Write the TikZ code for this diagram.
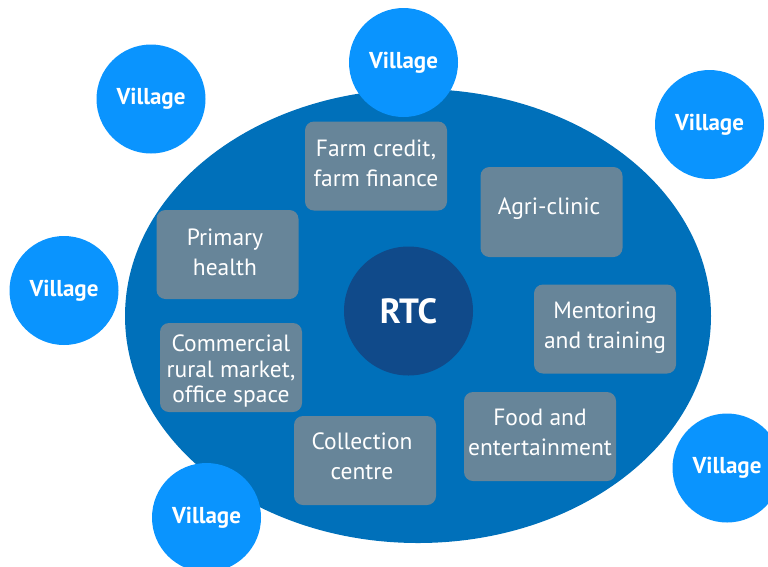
\documentclass[tikz,border=0pt]{standalone}
\usepackage{fontspec}
\setmainfont{PT Sans}
\usetikzlibrary{shapes.geometric}
\definecolor{ellipseblue}{HTML}{0070BA}
\definecolor{villageblue}{HTML}{0A94FE}
\definecolor{rtcblue}{HTML}{104A8A}
\definecolor{boxgray}{HTML}{678599}
\begin{document}
\begin{tikzpicture}[x=1pt,y=-1pt,
  village/.style={circle,fill=villageblue,minimum size=109pt,inner sep=0pt,text=white,font=\bfseries\fontsize{23}{26}\selectfont},
  servicebox/.style={rectangle,rounded corners=9pt,fill=boxgray,minimum width=142pt,minimum height=89pt,inner sep=0pt},
  boxtext/.style={text=white,align=center,inner sep=0pt,font=\fontsize{23.5}{30}\selectfont}]
\useasboundingbox (0,0) rectangle (768,566);
\clip (0,0) rectangle (768,566);
\node[ellipse,fill=ellipseblue,minimum width=586pt,minimum height=454pt,inner sep=0pt] (hub) at (418,316) {};
\node[village] (v1) at (151,99) {Village};
\node[village] (v2) at (403.5,62.5) {Village};
\node[village] (v3) at (709.5,124.5) {Village};
\node[village] (v4) at (64,290.5) {Village};
\node[village] (v5) at (727,468) {Village};
\node[village] (v6) at (206.5,517.5) {Village};
\node[circle,fill=rtcblue,minimum size=129pt,inner sep=0pt,text=white,font=\bfseries\fontsize{35}{40}\selectfont] (rtc) at (408.5,311) {RTC};
\node[servicebox] (farm) at (376,166) {};
\node[boxtext] (farmt) at (376,163) {Farm credit,\\farm finance};
\node[servicebox,minimum height=90pt] (agri) at (551.5,212) {};
\node[boxtext] (agrit) at (549,209) {Agri-clinic};
\node[servicebox] (health) at (227.5,254.5) {};
\node[boxtext] (healtht) at (225,252) {Primary\\health};
\node[servicebox] (market) at (231,367.5) {};
\node[boxtext,font=\fontsize{23.5}{25.5}\selectfont] (markett) at (231,371) {Commercial\\rural market,\\office space};
\node[servicebox] (collect) at (365,460.5) {};
\node[boxtext] (collectt) at (362,456) {Collection\\centre};
\node[servicebox,minimum width=152pt] (food) at (540,436.5) {};
\node[boxtext] (foodt) at (540,432) {Food and\\entertainment};
\node[servicebox] (mentor) at (605,329) {};
\node[boxtext] (mentort) at (605,328) {Mentoring\\and training};
\end{tikzpicture}
\end{document}
